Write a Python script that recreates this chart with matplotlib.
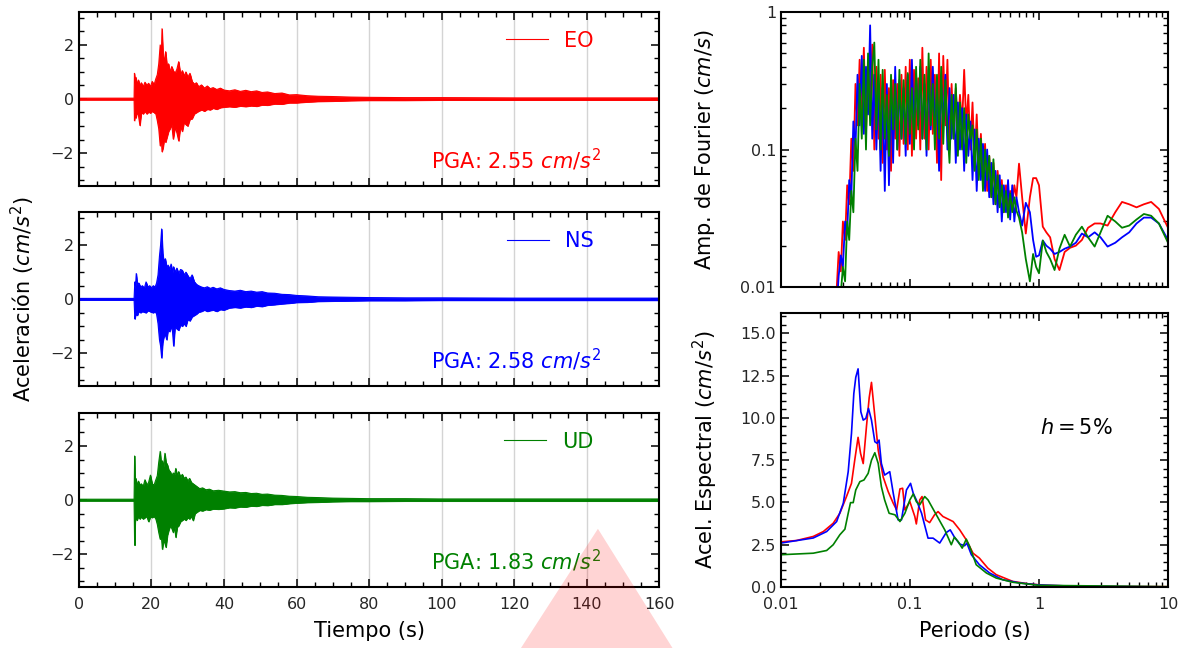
import numpy as np
import matplotlib
matplotlib.use('Agg')
from matplotlib import pyplot as plt
from matplotlib import ticker
from matplotlib.patches import Polygon

# === DATA === #
COMPONENTS = ['EO', 'NS', 'UD']
COLORS = ['r', 'b', 'g']
PGA = [2.55, 2.58, 1.83]  # cm/s2

# envelope of the accelerograms (time in s, upper and lower bound in cm/s2)
t_eo = [0, 15.2, 15.3, 15.5, 15.7, 16.0, 16.4, 16.8, 17.2, 17.7, 18.2, 18.7, 19.2, 19.7, 20.2, 20.7,
        21.2, 21.6, 22.0, 22.4, 22.7, 22.9, 23.2, 23.5, 23.9, 24.3, 24.7, 25.1, 25.6, 26.0, 26.5, 27.0,
        27.5, 28.0, 28.5, 29.0, 29.5, 30.0, 30.6, 31.2, 31.8, 32.4, 33.0, 33.8, 34.6, 35.4, 36.2, 37.0,
        38.0, 39.0, 40.0, 41.5, 43.0, 44.5, 46.0, 47.5, 49.0, 50.5, 52.0, 54.0, 56.0, 58.0, 60.0, 63.0,
        66.0, 70.0, 75.0, 80.0, 90, 100, 120, 140, 160]
up_eo = [0.03, 0.03, 0.95, 0.60, 0.80, 0.55, 0.70, 0.50, 0.60, 0.45, 0.62, 0.50, 0.58, 0.45, 0.65, 0.52,
         0.75, 0.90, 1.30, 2.00, 1.50, 2.60, 1.60, 1.40, 1.75, 1.20, 1.30, 1.00, 1.20, 1.05, 0.95, 1.10,
         1.38, 0.90, 1.05, 0.85, 1.00, 0.80, 0.95, 0.65, 0.55, 0.60, 0.45, 0.52, 0.40, 0.48, 0.38, 0.42,
         0.35, 0.40, 0.33, 0.30, 0.34, 0.28, 0.32, 0.27, 0.30, 0.24, 0.26, 0.20, 0.22, 0.15, 0.16, 0.12,
         0.10, 0.09, 0.07, 0.06, 0.05, 0.05, 0.04, 0.04, 0.04]
lo_eo = [-0.03, -0.03, -0.80, -0.55, -0.70, -0.50, -0.60, -0.98, -0.50, -0.55, -0.45, -0.55, -0.48, -0.52, -0.45, -0.50,
         -0.55, -0.80, -1.10, -1.73, -1.40, -1.95, -1.80, -1.50, -1.60, -1.40, -1.20, -1.10, -0.95, -1.48, -1.05, -1.25,
         -1.55, -1.00, -1.20, -0.85, -0.95, -1.00, -0.75, -0.73, -0.55, -0.50, -0.45, -0.40, -0.45, -0.38, -0.40, -0.34,
         -0.38, -0.32, -0.30, -0.28, -0.30, -0.26, -0.28, -0.25, -0.27, -0.22, -0.23, -0.18, -0.19, -0.14, -0.14, -0.11,
         -0.09, -0.08, -0.06, -0.05, -0.05, -0.04, -0.04, -0.04, -0.04]

t_ns = [0, 15.2, 15.4, 15.6, 15.8, 16.1, 16.5, 17.0, 17.5, 18.0, 18.5, 19.0, 19.5, 20.0, 20.5, 21.0,
        21.4, 21.8, 22.2, 22.5, 22.8, 23.1, 23.4, 23.8, 24.2, 24.6, 25.0, 25.4, 25.8, 26.1, 26.5, 27.0,
        27.5, 28.0, 28.5, 29.0, 29.5, 30.0, 30.6, 31.2, 31.8, 32.4, 33.0, 33.8, 34.6, 35.4, 36.2, 37.0,
        38.0, 39.0, 40.0, 41.5, 43.0, 44.5, 46.0, 47.5, 49.0, 50.5, 52.0, 54.0, 56.0, 58.0, 60.0, 63.0,
        66.0, 70.0, 75.0, 80.0, 90, 100, 120, 140, 160]
up_ns = [0.03, 0.03, 0.64, 0.50, 0.95, 0.55, 0.60, 0.45, 0.50, 0.40, 0.64, 0.45, 0.50, 0.42, 0.50, 0.45,
         0.60, 0.90, 1.60, 2.00, 2.60, 1.70, 1.40, 1.50, 1.20, 1.26, 1.10, 1.30, 1.00, 1.20, 1.00, 1.15,
         0.95, 1.10, 1.07, 0.90, 1.00, 0.88, 0.75, 0.90, 0.65, 0.55, 0.50, 0.45, 0.42, 0.46, 0.40, 0.44,
         0.38, 0.42, 0.36, 0.32, 0.30, 0.33, 0.28, 0.30, 0.26, 0.28, 0.23, 0.22, 0.18, 0.17, 0.14, 0.12,
         0.09, 0.08, 0.07, 0.06, 0.05, 0.05, 0.04, 0.04, 0.04]
lo_ns = [-0.03, -0.03, -0.73, -0.60, -0.55, -0.60, -0.45, -0.50, -0.45, -0.48, -0.50, -0.42, -0.45, -0.48, -0.50, -0.45,
         -0.55, -0.90, -1.50, -1.73, -2.17, -1.60, -1.40, -1.30, -1.50, -1.10, -1.20, -1.00, -1.20, -1.73, -1.00, -1.10,
         -1.15, -0.95, -1.00, -0.90, -1.00, -0.75, -0.80, -0.65, -0.60, -0.55, -0.48, -0.45, -0.40, -0.45, -0.42, -0.40,
         -0.45, -0.38, -0.40, -0.32, -0.30, -0.32, -0.28, -0.30, -0.25, -0.27, -0.22, -0.20, -0.17, -0.15, -0.12, -0.11,
         -0.08, -0.07, -0.06, -0.05, -0.05, -0.04, -0.04, -0.04, -0.04]

t_ud = [0, 15.2, 15.35, 15.5, 15.7, 16.0, 16.4, 16.8, 17.2, 17.7, 18.2, 18.7, 19.2, 19.7, 20.2, 20.7,
        21.2, 21.6, 22.0, 22.4, 22.7, 23.0, 23.3, 23.7, 24.0, 24.4, 24.8, 25.2, 25.6, 26.0, 26.4, 26.7,
        27.1, 27.5, 28.0, 28.5, 29.0, 29.5, 30.0, 30.5, 31.0, 31.5, 32.0, 32.5, 33.3, 34.1, 35.0, 36.0,
        37.0, 38.5, 40.0, 41.5, 43.0, 44.5, 46.0, 47.5, 49.0, 50.5, 52.0, 54.0, 56.0, 58.0, 60.0, 63.0,
        66.0, 70.0, 75.0, 80.0, 90, 100, 120, 140, 160]
up_ud = [0.03, 0.03, 1.63, 0.60, 0.80, 0.55, 0.70, 0.55, 0.60, 0.50, 0.75, 0.55, 0.65, 0.92, 0.60, 0.55,
         0.75, 0.90, 1.40, 1.80, 1.30, 1.45, 1.20, 1.73, 1.40, 1.30, 1.10, 1.05, 0.90, 1.00, 0.95, 1.17,
         0.90, 1.05, 0.85, 0.95, 0.80, 0.85, 0.70, 0.80, 0.65, 0.60, 0.55, 0.50, 0.42, 0.45, 0.38, 0.40,
         0.34, 0.36, 0.33, 0.30, 0.31, 0.27, 0.28, 0.24, 0.25, 0.21, 0.22, 0.18, 0.17, 0.14, 0.13, 0.10,
         0.09, 0.07, 0.06, 0.05, 0.05, 0.04, 0.04, 0.04, 0.04]
lo_ud = [-0.03, -0.03, -1.67, -0.80, -0.65, -0.75, -0.60, -0.70, -0.62, -0.70, -0.65, -0.60, -0.80, -0.62, -0.65, -0.60,
         -0.70, -0.90, -1.20, -1.45, -1.30, -1.82, -1.50, -1.60, -1.75, -1.30, -1.10, -0.95, -1.05, -1.20, -1.00, -1.38,
         -1.00, -0.95, -0.80, -0.75, -0.70, -0.75, -0.65, -0.70, -0.60, -0.76, -0.50, -0.45, -0.38, -0.40, -0.35, -0.37,
         -0.33, -0.34, -0.32, -0.28, -0.29, -0.25, -0.26, -0.22, -0.23, -0.19, -0.20, -0.16, -0.16, -0.13, -0.11, -0.09,
         -0.08, -0.06, -0.05, -0.05, -0.04, -0.04, -0.04, -0.04, -0.04]

# Fourier amplitude spectra (cm/s), all three on the same period grid (s)
fas_T = [0.0270, 0.0280, 0.0291, 0.0302, 0.0314, 0.0326, 0.0338, 0.0351, 0.0364, 0.0378, 0.0392, 0.0407,
         0.0423, 0.0439, 0.0456, 0.0473, 0.0491, 0.0510, 0.0529, 0.0549, 0.0570, 0.0592, 0.0614, 0.0638,
         0.0662, 0.0687, 0.0713, 0.0740, 0.0768, 0.0797, 0.0828, 0.0859, 0.0892, 0.0926, 0.0961, 0.0997,
         0.1035, 0.1075, 0.1115, 0.1158, 0.1202, 0.1247, 0.1295, 0.1344, 0.1395, 0.1448, 0.1503, 0.1560,
         0.1619, 0.1681, 0.1745, 0.1811, 0.1880, 0.1951, 0.2025, 0.2102, 0.2182, 0.2265, 0.2351, 0.2441,
         0.2533, 0.2630, 0.2730, 0.2833, 0.2941, 0.3053, 0.3169, 0.3290, 0.3415, 0.3544, 0.3679, 0.3819,
         0.3964, 0.4115, 0.4271, 0.4434, 0.4602, 0.4777, 0.4959, 0.5147, 0.5343, 0.5546, 0.5757, 0.5976,
         0.6203, 0.6439, 0.6683, 0.70, 0.74, 0.79, 0.85, 0.90, 0.95, 1.0, 1.07, 1.14, 1.22, 1.32,
         1.44, 1.58, 1.74, 1.93, 2.15, 2.4, 2.7, 3.0, 3.4, 3.9, 4.4, 5.0, 5.7, 6.5, 7.4, 8.5, 10.0]
fas_eo = [0.0095, 0.018, 0.013, 0.030, 0.022, 0.055, 0.040, 0.12, 0.07, 0.30, 0.15, 0.45,
          0.18, 0.55, 0.13, 0.45, 0.20, 0.58, 0.10, 0.40, 0.12, 0.35, 0.08, 0.38,
          0.10, 0.28, 0.07, 0.32, 0.12, 0.30, 0.09, 0.35, 0.11, 0.40, 0.10, 0.45,
          0.09, 0.38, 0.12, 0.33, 0.10, 0.55, 0.12, 0.40, 0.10, 0.45, 0.13, 0.35,
          0.08, 0.50, 0.06, 0.48, 0.15, 0.45, 0.10, 0.30, 0.12, 0.28, 0.14, 0.25,
          0.15, 0.38, 0.15, 0.25, 0.10, 0.22, 0.08, 0.18, 0.07, 0.13, 0.06, 0.11,
          0.05, 0.09, 0.045, 0.08, 0.04, 0.07, 0.045, 0.06, 0.035, 0.055, 0.038, 0.050,
          0.040, 0.055, 0.045, 0.079, 0.045, 0.0245, 0.045, 0.062, 0.062, 0.055, 0.0275, 0.025, 0.023, 0.016,
          0.0133, 0.018, 0.0193, 0.020, 0.022, 0.027, 0.029, 0.029, 0.028, 0.035, 0.0416, 0.040, 0.038, 0.040, 0.0416, 0.037, 0.027]
fas_ns = [0.007, 0.012, 0.017, 0.014, 0.030, 0.025, 0.060, 0.045, 0.16, 0.10, 0.35, 0.15,
          0.48, 0.13, 0.40, 0.18, 0.80, 0.12, 0.35, 0.10, 0.30, 0.07, 0.28, 0.05,
          0.30, 0.055, 0.25, 0.08, 0.40, 0.10, 0.32, 0.12, 0.28, 0.09, 0.35, 0.11,
          0.45, 0.13, 0.35, 0.15, 0.40, 0.12, 0.30, 0.09, 0.38, 0.14, 0.40, 0.14,
          0.25, 0.07, 0.30, 0.16, 0.35, 0.10, 0.28, 0.12, 0.25, 0.08, 0.22, 0.10,
          0.20, 0.07, 0.18, 0.09, 0.16, 0.06, 0.14, 0.05, 0.12, 0.06, 0.11, 0.05,
          0.10, 0.045, 0.08, 0.04, 0.07, 0.035, 0.065, 0.030, 0.055, 0.035, 0.060, 0.031,
          0.055, 0.030, 0.045, 0.035, 0.028, 0.041, 0.035, 0.022, 0.0166, 0.017, 0.0218, 0.020, 0.019, 0.0174,
          0.018, 0.019, 0.0197, 0.021, 0.0245, 0.023, 0.025, 0.023, 0.0197, 0.021, 0.023, 0.025, 0.029, 0.032, 0.032, 0.029, 0.022]
fas_ud = [0.005, 0.006, 0.009, 0.014, 0.011, 0.030, 0.022, 0.050, 0.035, 0.12, 0.07, 0.30,
          0.12, 0.45, 0.10, 0.50, 0.15, 0.40, 0.60, 0.14, 0.45, 0.10, 0.38, 0.12,
          0.25, 0.09, 0.35, 0.14, 0.30, 0.10, 0.38, 0.12, 0.32, 0.11, 0.36, 0.13,
          0.28, 0.10, 0.40, 0.14, 0.45, 0.12, 0.35, 0.10, 0.50, 0.15, 0.30, 0.10,
          0.35, 0.12, 0.40, 0.11, 0.32, 0.14, 0.08, 0.25, 0.12, 0.30, 0.09, 0.22,
          0.10, 0.20, 0.08, 0.18, 0.12, 0.15, 0.07, 0.14, 0.06, 0.12, 0.05, 0.10,
          0.06, 0.09, 0.045, 0.085, 0.04, 0.065, 0.038, 0.055, 0.035, 0.050, 0.032, 0.048,
          0.035, 0.045, 0.036, 0.032, 0.025, 0.016, 0.011, 0.0174, 0.014, 0.0126, 0.0218, 0.018, 0.016, 0.0133,
          0.019, 0.024, 0.0197, 0.024, 0.0275, 0.023, 0.0197, 0.025, 0.033, 0.030, 0.027, 0.028, 0.031, 0.034, 0.033, 0.029, 0.021]

# 5% damped acceleration response spectra (period in s, Sa in cm/s2)
sa_T_eo = [0.01, 0.0132, 0.0178, 0.0213, 0.0254, 0.0286, 0.0322, 0.0352, 0.0373, 0.0396, 0.0414, 0.0434,
           0.0460, 0.0483, 0.0503, 0.0534, 0.0567, 0.0620, 0.0678, 0.0742, 0.0788, 0.0836, 0.0877, 0.0913,
           0.0998, 0.109, 0.112, 0.119, 0.124, 0.132, 0.142, 0.155, 0.165, 0.180, 0.216, 0.243, 0.273,
           0.308, 0.345, 0.401, 0.466, 0.627, 0.843, 1.13, 2.04, 10]
sa_eo = [2.67, 2.75, 2.99, 3.28, 3.77, 4.36, 5.35, 6.13, 7.5, 8.85, 7.9, 7.3,
         9.5, 11.2, 12.1, 10.1, 8.1, 6.5, 5.64, 4.95, 4.56, 5.8, 5.84, 4.56,
         5.05, 4.17, 3.73, 5.15, 5.35, 3.97, 3.81, 4.27, 4.46, 4.17, 3.87, 3.38, 2.79,
         2.0, 1.71, 1.12, 0.73, 0.33, 0.18, 0.10, 0.04, 0.02]

sa_T_ns = [0.01, 0.0178, 0.0226, 0.0270, 0.0304, 0.0332, 0.0352, 0.0367, 0.0380, 0.0396, 0.0416, 0.0434,
           0.0455, 0.0477, 0.0503, 0.0534, 0.0556, 0.0576, 0.0600, 0.0636, 0.0697, 0.0742, 0.0809, 0.0859,
           0.0939, 0.101, 0.106, 0.112, 0.123, 0.138, 0.151, 0.170, 0.191, 0.205, 0.221, 0.243, 0.265,
           0.276, 0.299, 0.345, 0.414, 0.523, 0.708, 1.0, 2.04, 10]
sa_ns = [2.6, 2.9, 3.28, 3.87, 4.95, 6.82, 9.08, 11.44, 12.4, 12.9, 10.36, 9.87,
         9.97, 10.56, 9.87, 8.59, 8.5, 8.69, 7.31, 6.62, 6.82, 5.54, 3.97, 3.97,
         5.74, 6.13, 5.54, 5.15, 4.36, 2.89, 2.89, 2.6, 3.22, 3.38, 2.95, 2.54, 2.44,
         2.6, 1.91, 1.32, 0.83, 0.43, 0.24, 0.12, 0.04, 0.01]

sa_T_ud = [0.01, 0.0178, 0.0226, 0.0254, 0.0286, 0.0313, 0.0332, 0.0346, 0.0363, 0.0380, 0.0409, 0.0440,
           0.0474, 0.0503, 0.0534, 0.0567, 0.0600, 0.0636, 0.0689, 0.0765, 0.0836, 0.0913, 0.0998, 0.106,
           0.112, 0.119, 0.130, 0.138, 0.160, 0.186, 0.209, 0.221, 0.236, 0.254, 0.273, 0.290, 0.326,
           0.391, 0.466, 0.627, 1.0, 10]
sa_ud = [1.91, 2.0, 2.16, 2.5, 3.09, 3.42, 4.36, 4.99, 4.99, 5.74, 6.23, 6.33,
         6.72, 7.5, 7.94, 7.31, 5.94, 5.15, 4.36, 4.27, 3.87, 4.36, 5.15, 5.5,
         5.05, 4.86, 5.35, 5.15, 4.27, 3.38, 2.5, 2.95, 2.69, 2.3, 2.83, 2.4, 1.32,
         0.83, 0.53, 0.28, 0.1, 0.02]

ACC = [(t_eo, up_eo, lo_eo), (t_ns, up_ns, lo_ns), (t_ud, up_ud, lo_ud)]
FAS = [fas_eo, fas_ns, fas_ud]
SA = [(sa_T_eo, sa_eo), (sa_T_ns, sa_ns), (sa_T_ud, sa_ud)]

# === INPUTS === #
FIG_W, FIG_H, DPI = 11.84, 6.48, 100
TICK_FS = 11.5
LABEL_FS = 15
ACC_LIM = 3.22

plt.rcParams['font.family'] = ['DejaVu Sans']
plt.rcParams['mathtext.fontset'] = 'dejavusans'


def style_axes(ax):
    ax.tick_params(which='both', direction='in', top=True, right=True, labelsize=TICK_FS, colors='#262626')
    ax.tick_params(which='major', length=6, width=1.1, color='k')
    ax.tick_params(which='minor', length=3.5, width=1.0, color='k')
    ax.tick_params(axis='x', which='both', pad=7.5)
    for sp in ax.spines.values():
        sp.set_linewidth(1.5)


fig = plt.figure(figsize=(FIG_W, FIG_H), dpi=DPI)

# --- accelerograms --- #
acc_rects = [[0.0667, 0.713, 0.490, 0.2685], [0.0667, 0.404, 0.490, 0.2685], [0.0667, 0.0941, 0.490, 0.2685]]
acc_axes = []
for i, (comp, col, pga, (t, up, lo)) in enumerate(zip(COMPONENTS, COLORS, PGA, ACC)):
    ax = fig.add_axes(acc_rects[i])
    ax.fill_between(t, lo, up, color=col, lw=0.6)
    ax.plot(t, up, color=col, lw=0.8, label=comp)
    ax.plot(t, lo, color=col, lw=0.8)
    ax.set_xlim(0, 160)
    ax.set_ylim(-ACC_LIM, ACC_LIM)
    ax.xaxis.set_major_locator(ticker.MultipleLocator(20))
    ax.xaxis.set_minor_locator(ticker.MultipleLocator(5))
    ax.yaxis.set_major_locator(ticker.MultipleLocator(2))
    ax.yaxis.set_minor_locator(ticker.MultipleLocator(0.5))
    ax.grid(axis='x', which='major', color='#d4d4d4', lw=1.0)
    ax.set_axisbelow(True)
    style_axes(ax)
    if i < 2:
        ax.set_xticklabels([])
    ax.legend(loc='upper right', bbox_to_anchor=(0.92, 1.0), frameon=False, fontsize=LABEL_FS,
              labelcolor='linecolor', handlelength=2.0)
    ax.text(0.9, 0.1, f'PGA: {pga:.2f} $cm/s^2$', color=col, fontsize=LABEL_FS, ha='right', va='baseline',
            transform=ax.transAxes)
    acc_axes.append(ax)

acc_axes[1].set_ylabel('Aceleración ($cm/s^2$)', fontsize=LABEL_FS, labelpad=10)
acc_axes[2].set_xlabel('Tiempo (s)', fontsize=LABEL_FS, labelpad=6)

# --- Fourier spectra --- #
axf = fig.add_axes([0.6596, 0.557, 0.3269, 0.4244])
for col, A in zip(COLORS, FAS):
    axf.plot(fas_T, A, color=col, lw=1.3)
axf.set_xscale('log')
axf.set_yscale('log')
axf.set_xlim(0.01, 10)
axf.set_ylim(0.01, 1)
axf.yaxis.set_major_formatter(ticker.FormatStrFormatter('%g'))
axf.yaxis.set_minor_formatter(ticker.NullFormatter())
axf.set_xticklabels([])
axf.xaxis.set_minor_formatter(ticker.NullFormatter())
style_axes(axf)
axf.set_ylabel('Amp. de Fourier ($cm/s$)', fontsize=LABEL_FS, labelpad=17)

# --- response spectra --- #
axs = fig.add_axes([0.6596, 0.0941, 0.3269, 0.4228])
for col, (T, S) in zip(COLORS, SA):
    axs.plot(T, S, color=col, lw=1.2)
axs.set_xscale('log')
axs.set_xlim(0.01, 10)
axs.set_ylim(0, 16.2)
axs.xaxis.set_major_formatter(ticker.FormatStrFormatter('%g'))
axs.yaxis.set_major_locator(ticker.MultipleLocator(2.5))
axs.yaxis.set_minor_locator(ticker.MultipleLocator(0.5))
axs.yaxis.set_major_formatter(ticker.FormatStrFormatter('%.1f'))
style_axes(axs)
axs.text(0.67, 0.58, r'$h = 5\%$', fontsize=LABEL_FS, ha='left', va='center', transform=axs.transAxes)
axs.set_ylabel('Acel. Espectral ($cm/s^2$)', fontsize=LABEL_FS, labelpad=15)
axs.set_xlabel('Periodo (s)', fontsize=LABEL_FS, labelpad=6)

# pink triangle overlay at the bottom of the reference image
fig.patches.append(Polygon([[0.440, 0.0], [0.568, 0.0], [0.505, 0.184]], closed=True,
                           transform=fig.transFigure, facecolor=(1, 0, 0, 0.17), edgecolor='none', zorder=5))

fig.savefig('out.png', dpi=DPI)
